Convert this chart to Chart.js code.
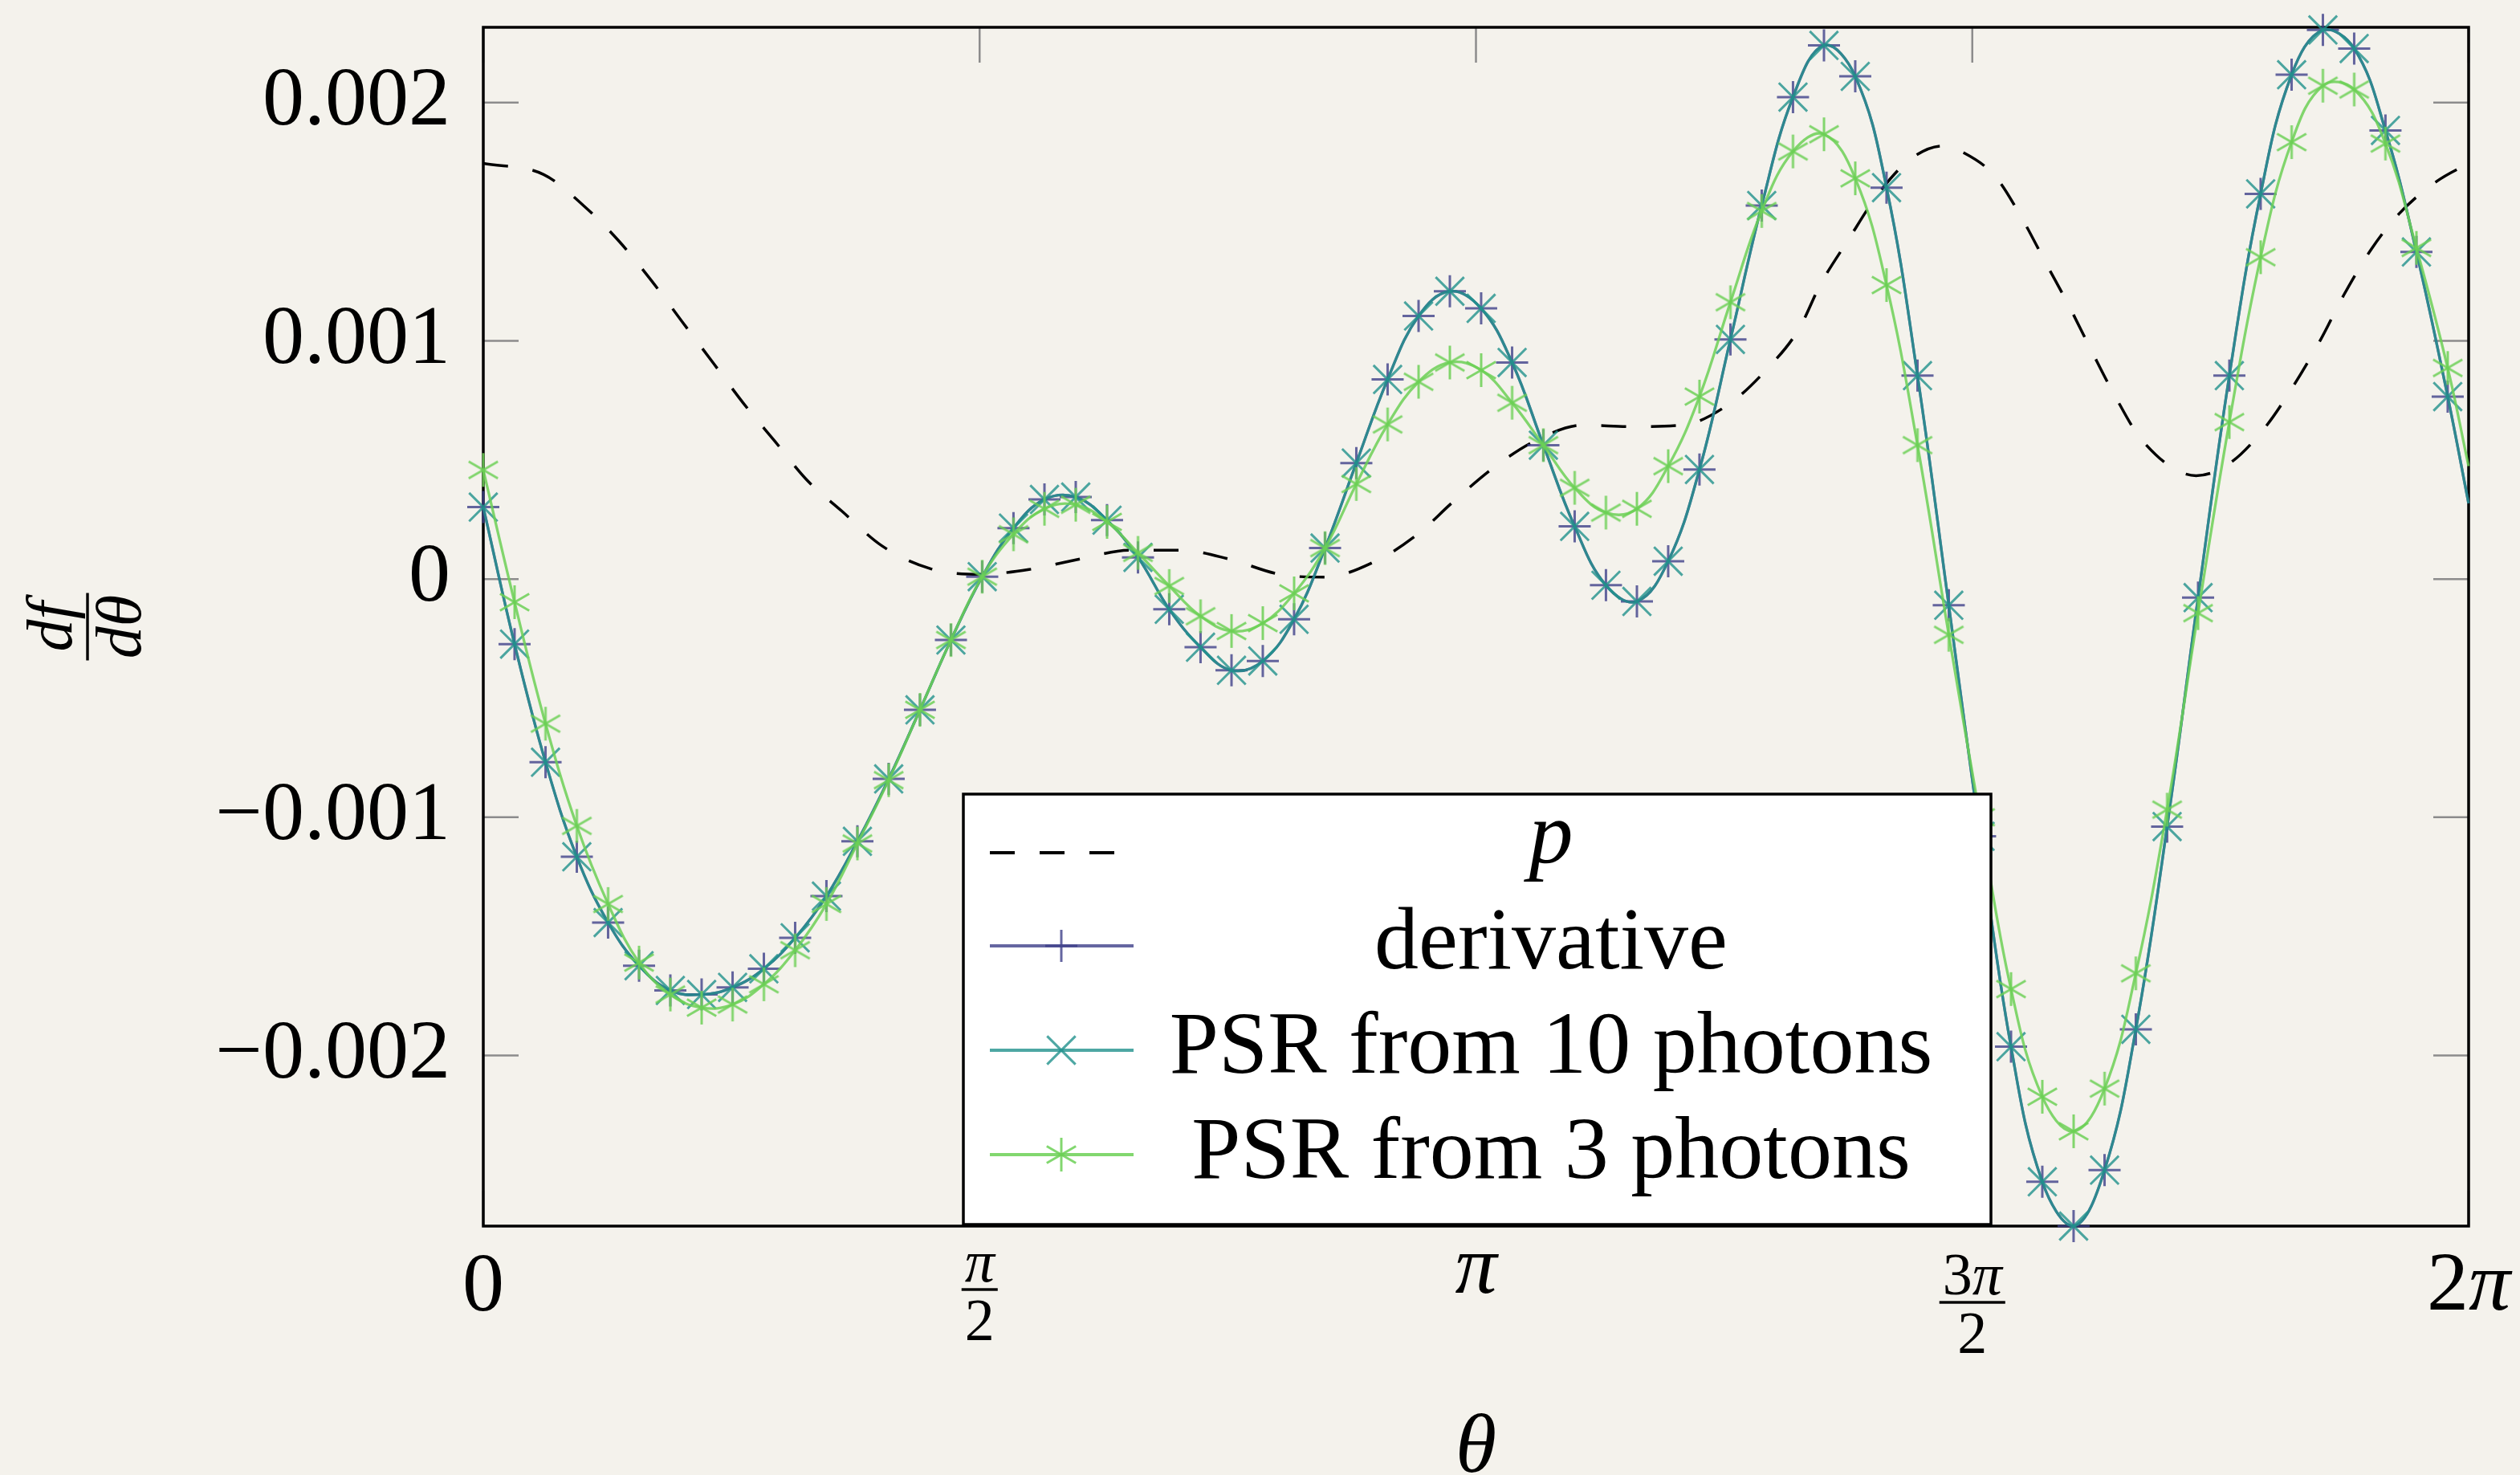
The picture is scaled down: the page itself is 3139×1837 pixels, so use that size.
<!DOCTYPE html>
<html>
<head>
<meta charset="utf-8">
<script src="https://cdn.jsdelivr.net/npm/chart.js@4.4.0/dist/chart.umd.min.js"></script>
<style>
  html, body { margin: 0; padding: 0; background: #f4f2ec; }
  canvas { display: block; }
</style>
</head>
<body>
<canvas id="plot" width="3139" height="1837"></canvas>
<script>
// angles of the sampled points (rad); the last one closes the line at 2pi
const theta = [0.000, 0.099, 0.197, 0.296, 0.395, 0.493, 0.592, 0.691, 0.789, 0.888,
  0.987, 1.086, 1.184, 1.283, 1.382, 1.480, 1.579, 1.678, 1.776, 1.875,
  1.974, 2.072, 2.171, 2.270, 2.368, 2.467, 2.566, 2.664, 2.763, 2.862,
  2.960, 3.059, 3.158, 3.256, 3.355, 3.454, 3.553, 3.651, 3.750, 3.849,
  3.947, 4.046, 4.145, 4.243, 4.342, 4.441, 4.539, 4.638, 4.737, 4.835,
  4.934, 5.033, 5.131, 5.230, 5.329, 5.427, 5.526, 5.625, 5.723, 5.822,
  5.921, 6.020, 6.118, 6.217, 6.283];

// df/dtheta, in units of 1e-3
const derivative = [0.302, -0.273, -0.769, -1.166, -1.442, -1.623, -1.727, -1.744, -1.714, -1.636,
  -1.506, -1.331, -1.101, -0.839, -0.549, -0.256, 0.010, 0.214, 0.334, 0.344,
  0.247, 0.091, -0.127, -0.286, -0.383, -0.344, -0.169, 0.130, 0.487, 0.838,
  1.104, 1.208, 1.136, 0.909, 0.562, 0.221, -0.026, -0.094, 0.075, 0.460,
  1.006, 1.568, 2.023, 2.240, 2.110, 1.643, 0.854, -0.110, -1.080, -1.963,
  -2.530, -2.716, -2.481, -1.890, -1.039, -0.078, 0.854, 1.617, 2.117, 2.305,
  2.227, 1.883, 1.373, 0.766, 0.318];

const psr10 = [0.302, -0.273, -0.769, -1.166, -1.442, -1.623, -1.727, -1.744, -1.714, -1.636,
  -1.506, -1.331, -1.101, -0.839, -0.549, -0.256, 0.010, 0.214, 0.334, 0.344,
  0.247, 0.091, -0.127, -0.286, -0.383, -0.344, -0.169, 0.130, 0.487, 0.838,
  1.104, 1.208, 1.136, 0.909, 0.562, 0.221, -0.026, -0.094, 0.075, 0.460,
  1.006, 1.568, 2.023, 2.240, 2.110, 1.643, 0.854, -0.110, -1.080, -1.963,
  -2.530, -2.716, -2.481, -1.890, -1.039, -0.078, 0.854, 1.617, 2.117, 2.305,
  2.227, 1.883, 1.373, 0.766, 0.318];

const psr3 = [0.458, -0.097, -0.607, -1.036, -1.364, -1.610, -1.744, -1.799, -1.786, -1.701,
  -1.558, -1.364, -1.110, -0.844, -0.549, -0.256, 0.010, 0.188, 0.295, 0.312,
  0.240, 0.110, -0.029, -0.156, -0.218, -0.185, -0.060, 0.130, 0.399, 0.649,
  0.828, 0.909, 0.877, 0.740, 0.562, 0.383, 0.279, 0.295, 0.474, 0.766,
  1.162, 1.545, 1.795, 1.867, 1.682, 1.234, 0.562, -0.234, -1.000, -1.721,
  -2.173, -2.318, -2.139, -1.655, -0.968, -0.143, 0.659, 1.351, 1.834, 2.071,
  2.055, 1.828, 1.390, 0.886, 0.474];

// p (dashed), units of 1e-3
const pTheta = [0.000, 0.191, 0.317, 0.427, 0.528, 0.629, 0.730, 0.822, 0.923, 1.024,
  1.134, 1.262, 1.414, 1.570, 1.727, 1.888, 2.048, 2.208, 2.360, 2.520,
  2.660, 2.825, 2.955, 3.070, 3.200, 3.332, 3.480, 3.640, 3.794, 3.941,
  4.063, 4.164, 4.232, 4.320, 4.416, 4.518, 4.619, 4.683, 4.785, 4.868,
  4.945, 5.019, 5.089, 5.163, 5.250, 5.421, 5.526, 5.637, 5.726, 5.814,
  5.888, 5.975, 6.062, 6.183, 6.283];
const pValues = [1.745, 1.698, 1.568, 1.422, 1.260, 1.081, 0.903, 0.740, 0.578, 0.416,
  0.286, 0.139, 0.044, 0.020, 0.040, 0.084, 0.121, 0.121, 0.084, 0.020,
  0.008, 0.076, 0.186, 0.325, 0.470, 0.582, 0.646, 0.640, 0.646, 0.733,
  0.882, 1.050, 1.237, 1.424, 1.619, 1.764, 1.818, 1.791, 1.690, 1.518,
  1.327, 1.145, 0.960, 0.771, 0.582, 0.434, 0.485, 0.633, 0.805, 1.003,
  1.192, 1.384, 1.532, 1.670, 1.745];

const xTicks = [0, Math.PI / 2, Math.PI, 3 * Math.PI / 2, 2 * Math.PI];
const xTickLabels = ['0', 'π/2', 'π', '3π/2', '2π'];
const yTicks = [-0.002, -0.001, 0, 0.001, 0.002];

const SERIF = '"Liberation Serif", "DejaVu Serif", serif';
const C_DERIV = 'rgba(62, 64, 138, 0.8)';
const C_PSR10 = 'rgba(33, 145, 140, 0.8)';
const C_PSR3 = 'rgba(108, 208, 86, 0.85)';

const toPoints = (xs, ys) => xs.map((x, i) => ({ x: x, y: ys[i] / 1000 }));
const lastIdx = theta.length - 1;
const markRadius = r => c => (c.dataIndex === lastIdx ? 0 : r);

// six-armed asterisk like the pgfplots one
function asteriskMark(r, color, lw) {
  const c = document.createElement('canvas');
  const s = Math.ceil(2 * r + 2 * lw);
  c.width = c.height = s;
  const g = c.getContext('2d');
  g.strokeStyle = color;
  g.lineWidth = lw;
  g.translate(s / 2, s / 2);
  [90, 30, 150].forEach(a => {
    const t = a * Math.PI / 180;
    g.beginPath();
    g.moveTo(-r * Math.cos(t), -r * Math.sin(t));
    g.lineTo(r * Math.cos(t), r * Math.sin(t));
    g.stroke();
  });
  return c;
}
const starMark = asteriskMark(21, C_PSR3, 3);

function drawMark(ctx, style, x, y, r, color) {
  if (typeof style !== 'string') {
    ctx.drawImage(style, x - style.width / 2, y - style.height / 2);
    return;
  }
  ctx.strokeStyle = color;
  ctx.lineWidth = 3;
  ctx.beginPath();
  if (style === 'cross') {
    ctx.moveTo(x - r, y); ctx.lineTo(x + r, y);
    ctx.moveTo(x, y - r); ctx.lineTo(x, y + r);
  } else {
    const d = r * Math.SQRT1_2;
    ctx.moveTo(x - d, y - d); ctx.lineTo(x + d, y + d);
    ctx.moveTo(x - d, y + d); ctx.lineTo(x + d, y - d);
  }
  ctx.stroke();
}

// text with digits upright and letters in italic, like TeX math
function mathRuns(ctx, text, size) {
  const runs = [];
  for (const ch of text) {
    const it = /[A-Za-zα-ωπθ]/.test(ch);
    const last = runs[runs.length - 1];
    if (last && last.it === it) last.s += ch;
    else runs.push({ s: ch, it: it });
  }
  let w = 0, asc = 0;
  runs.forEach(r => {
    r.font = (r.it ? 'italic ' : '') + size + 'px ' + SERIF;
    ctx.font = r.font;
    const m = ctx.measureText(r.s);
    r.w = m.width;
    w += r.w;
    asc = Math.max(asc, m.actualBoundingBoxAscent);
  });
  return { runs: runs, w: w, asc: asc };
}
function drawMath(ctx, text, x, y, size) {
  const m = mathRuns(ctx, text, size);
  let cx = x - m.w / 2;
  ctx.textAlign = 'left';
  ctx.textBaseline = 'alphabetic';
  m.runs.forEach(r => { ctx.font = r.font; ctx.fillText(r.s, cx, y); cx += r.w; });
}

const paperPlugin = {
  id: 'paper',
  beforeDraw(chart) {
    const ctx = chart.ctx;
    ctx.save();
    ctx.fillStyle = '#f4f2ec';
    ctx.fillRect(0, 0, chart.width, chart.height);
    ctx.restore();
  }
};

const framePlugin = {
  id: 'frame',
  beforeDatasetsDraw(chart) {
    const { ctx, chartArea: a, scales } = chart;
    ctx.save();
    ctx.strokeStyle = '#8c8c8c';
    ctx.lineWidth = 2.5;
    ctx.beginPath();
    yTicks.forEach(v => {
      const y = scales.y.getPixelForValue(v);
      ctx.moveTo(a.left, y); ctx.lineTo(a.left + 44, y);
      ctx.moveTo(a.right - 44, y); ctx.lineTo(a.right, y);
    });
    xTicks.forEach(v => {
      const x = scales.x.getPixelForValue(v);
      ctx.moveTo(x, a.top); ctx.lineTo(x, a.top + 44);
      ctx.moveTo(x, a.bottom - 44); ctx.lineTo(x, a.bottom);
    });
    ctx.stroke();
    ctx.strokeStyle = '#000';
    ctx.lineWidth = 3.5;
    ctx.strokeRect(a.left, a.top, a.right - a.left, a.bottom - a.top);
    ctx.restore();
  }
};

const labelsPlugin = {
  id: 'labels',
  afterDraw(chart) {
    const { ctx, chartArea: a, scales } = chart;
    ctx.save();
    ctx.fillStyle = '#000';
    const top = a.bottom + 35;
    xTicks.forEach((v, i) => {
      const x = scales.x.getPixelForValue(v);
      const lab = xTickLabels[i];
      if (lab.indexOf('/') >= 0) {
        const parts = lab.split('/');
        const num = mathRuns(ctx, parts[0], 74);
        const den = mathRuns(ctx, parts[1], 74);
        const bar = top + num.asc + 10;
        drawMath(ctx, parts[0], x, top + num.asc, 74);
        const bw = Math.max(num.w, den.w) + 8;
        ctx.fillRect(x - bw / 2, bar - 1.7, bw, 3.4);
        drawMath(ctx, parts[1], x, bar + 13 + den.asc, 74);
      } else {
        const m = mathRuns(ctx, lab, 104);
        drawMath(ctx, lab, x, top + m.asc, 104);
      }
    });
    // x title
    const tt = mathRuns(ctx, 'θ', 104);
    drawMath(ctx, 'θ', (a.left + a.right) / 2, 1760 + tt.asc, 104);
    // y title: df/dθ, rotated
    ctx.translate(109, (a.top + a.bottom) / 2);
    ctx.rotate(-Math.PI / 2);
    drawMath(ctx, 'df', 0, -20, 80);
    ctx.fillRect(-42, -1.7, 84, 3.4);
    drawMath(ctx, 'dθ', 0, 66, 80);
    ctx.restore();
  }
};

const legendPlugin = {
  id: 'pgfLegend',
  afterDraw(chart) {
    const ctx = chart.ctx;
    const box = { left: 1200, top: 989, right: 2480, bottom: 1525 };
    const rows = [
      { line: 1062, text: 1075 },
      { line: 1178, text: 1206 },
      { line: 1308, text: 1336 },
      { line: 1438, text: 1467 }
    ];
    ctx.save();
    ctx.fillStyle = '#fff';
    ctx.fillRect(box.left, box.top, box.right - box.left, box.bottom - box.top);
    ctx.strokeStyle = '#000';
    ctx.lineWidth = 3.5;
    ctx.strokeRect(box.left, box.top, box.right - box.left, box.bottom - box.top);
    chart.data.datasets.forEach((ds, i) => {
      const r = rows[i];
      ctx.strokeStyle = ds.borderColor;
      ctx.lineWidth = 3.8;
      ctx.setLineDash(ds.borderDash || []);
      ctx.beginPath();
      ctx.moveTo(1233, r.line);
      ctx.lineTo(ds.borderDash ? 1390 : 1412, r.line);
      ctx.stroke();
      ctx.setLineDash([]);
      if (ds.pointStyle) drawMark(ctx, ds.pointStyle, 1322, r.line, ds.legendRadius, ds.borderColor);
      ctx.fillStyle = '#000';
      if (ds.label.length === 1) {
        drawMath(ctx, ds.label, 1932, r.text, 110);
      } else {
        ctx.font = '110px ' + SERIF;
        ctx.textAlign = 'center';
        ctx.textBaseline = 'alphabetic';
        ctx.fillText(ds.label, 1932, r.text);
      }
    });
    ctx.restore();
  }
};

const fmtY = v => (Math.abs(v) < 1e-12 ? '0' : (v < 0 ? '\u2212' : '') + Math.abs(v).toFixed(3));

new Chart(document.getElementById('plot'), {
  type: 'line',
  data: {
    datasets: [
      {
        label: 'p',
        data: toPoints(pTheta, pValues),
        borderColor: '#000',
        borderWidth: 3.5,
        borderDash: [31, 31],
        pointRadius: 0,
        cubicInterpolationMode: 'monotone',
        order: 4
      },
      {
        label: 'derivative',
        data: toPoints(theta, derivative),
        borderColor: C_DERIV,
        borderWidth: 3.3,
        pointStyle: 'cross',
        pointRadius: markRadius(20),
        legendRadius: 20,
        pointBorderColor: C_DERIV,
        pointBorderWidth: 3,
        tension: 0.4,
        clip: false,
        order: 3
      },
      {
        label: 'PSR from 10 photons',
        data: toPoints(theta, psr10),
        borderColor: C_PSR10,
        borderWidth: 3.3,
        pointStyle: 'crossRot',
        pointRadius: markRadius(25),
        legendRadius: 25,
        pointBorderColor: C_PSR10,
        pointBorderWidth: 3,
        tension: 0.4,
        clip: false,
        order: 2
      },
      {
        label: 'PSR from 3 photons',
        data: toPoints(theta, psr3),
        borderColor: C_PSR3,
        borderWidth: 3.3,
        pointStyle: starMark,
        pointRadius: markRadius(21),
        legendRadius: 21,
        pointBorderWidth: 0,
        tension: 0.4,
        clip: false,
        order: 1
      }
    ]
  },
  options: {
    responsive: false,
    animation: false,
    devicePixelRatio: 1,
    events: [],
    layout: { padding: { top: 34, right: 64, left: 0, bottom: 0 } },
    plugins: {
      legend: { display: false },
      tooltip: { enabled: false }
    },
    scales: {
      x: {
        type: 'linear',
        min: 0,
        max: 2 * Math.PI,
        grid: { display: false, drawTicks: false },
        border: { display: false },
        ticks: { display: false },
        afterBuildTicks: s => { s.ticks = xTicks.map(v => ({ value: v })); },
        afterFit: s => { s.height = 310; s.paddingLeft = 0; s.paddingRight = 0; }
      },
      y: {
        type: 'linear',
        min: -0.002716,
        max: 0.002316,
        grid: { display: false, drawTicks: false },
        border: { display: false },
        ticks: {
          color: '#000',
          padding: 41,
          font: { family: SERIF, size: 104 },
          callback: v => fmtY(v)
        },
        afterBuildTicks: s => { s.ticks = yTicks.map(v => ({ value: v })); },
        afterFit: s => { s.width = 602; s.paddingTop = 0; s.paddingBottom = 0; }
      }
    }
  },
  plugins: [paperPlugin, framePlugin, labelsPlugin, legendPlugin]
});
</script>
</body>
</html>
